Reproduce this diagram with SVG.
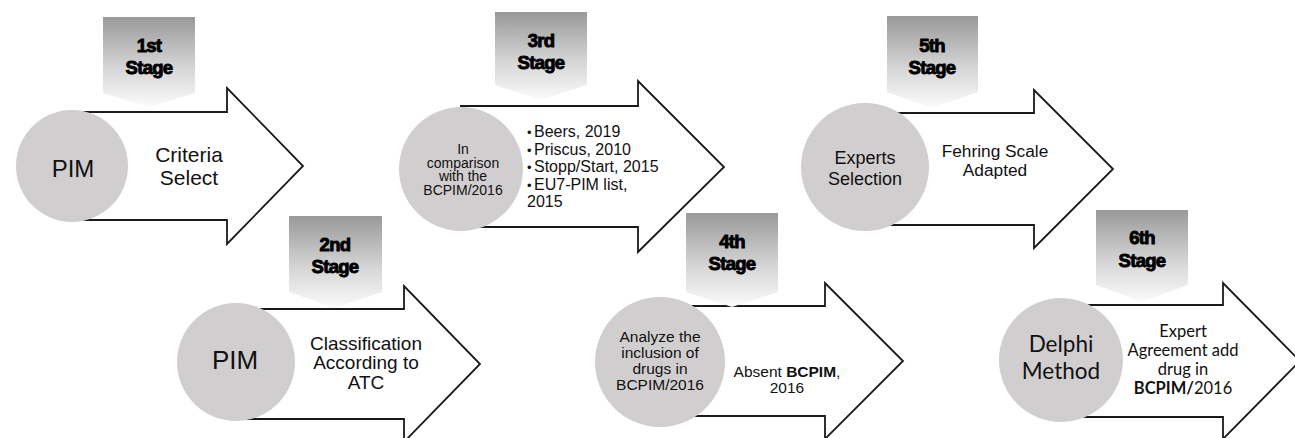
<svg xmlns="http://www.w3.org/2000/svg" width="1295" height="438" viewBox="0 0 1295 438">
<defs>
<linearGradient id="gStage" x1="0" y1="0" x2="0" y2="1">
<stop offset="0" stop-color="#999999"/>
<stop offset="0.55" stop-color="#d4d4d4"/>
<stop offset="1" stop-color="#fbfbfb"/>
</linearGradient>
<style>
.arrow{fill:#ffffff;stroke:#1a1a1a;stroke-width:1.8;stroke-linejoin:miter}
.circ{fill:#d1cecf;stroke:none}
.stage{fill:url(#gStage);stroke:none}
.st{font-family:"Liberation Sans",Arial,sans-serif;font-weight:bold;font-size:18.5px;fill:#000;stroke:#000;stroke-width:0.9;text-anchor:middle;letter-spacing:-0.7px}
.t{font-family:"Liberation Sans",Arial,sans-serif;fill:#111;text-anchor:middle}
.c{font-family:Lato,"Open Sans",sans-serif;fill:#111;text-anchor:middle}
.b{font-weight:bold}
</style>
</defs>
<g id="connectors"></g>
<g id="stage1">
<path class="arrow" d="M72,112 H227 V88 L303,166 L227,244 V220 H72 Z"/>
<circle class="circ" cx="72" cy="166" r="56"/>
<path class="stage" d="M103,17 H195 V93 L149,107 L103,93 Z"/>
<text class="st" x="149" y="52">1st</text>
<text class="st" x="149" y="74">Stage</text>
<text class="t" x="73" y="177" font-size="24">PIM</text>
<text class="t" x="189" y="162" font-size="21">Criteria</text>
<text class="t" x="189" y="185" font-size="21">Select</text>
</g>
<g id="stage2">
<path class="arrow" d="M236,309 H404 V286 L480,364 L404,442 V419 H236 Z"/>
<circle class="circ" cx="236" cy="362" r="59"/>
<path class="stage" d="M289,216 H382 V292 L335,308 L289,292 Z"/>
<text class="st" x="335" y="251">2nd</text>
<text class="st" x="335" y="273">Stage</text>
<text class="t" x="235" y="369" font-size="26">PIM</text>
<text class="t" x="366" y="350" font-size="19">Classification</text>
<text class="t" x="366" y="369" font-size="19">According to</text>
<text class="t" x="366" y="389" font-size="19">ATC</text>
</g>
<g id="stage3">
<path class="arrow" d="M461,106 H638 V81 L724,167 L638,252 V227 H461 Z"/>
<circle class="circ" cx="461" cy="169" r="62"/>
<path class="stage" d="M495,12 H587 V85 L541,100 L495,85 Z"/>
<text class="st" x="541" y="47">3rd</text>
<text class="st" x="541" y="69">Stage</text>
<text class="t" font-size="14" x="463" y="154">In</text>
<text class="t" font-size="14" x="463" y="167.5">comparison</text>
<text class="t" font-size="14" x="463" y="181">with the</text>
<text class="t" font-size="14" x="463" y="194.5">BCPIM/2016</text>
<g font-family="Liberation Sans, Arial, sans-serif" font-size="16" fill="#111">
<text x="527" y="137" font-size="13">•</text><text x="534" y="137">Beers, 2019</text>
<text x="527" y="154.5" font-size="13">•</text><text x="534" y="154.5">Priscus, 2010</text>
<text x="527" y="172" font-size="13">•</text><text x="534" y="172">Stopp/Start, 2015</text>
<text x="527" y="189.5" font-size="13">•</text><text x="534" y="189.5">EU7-PIM list,</text>
<text x="527" y="207">2015</text>
</g>
</g>
<g id="stage4">
<path class="arrow" d="M660,306 H825 V283 L903,361 L825,439 V416 H660 Z"/>
<circle class="circ" cx="660" cy="362" r="65"/>
<path class="stage" d="M686,213 H778 V292 L732,307 L686,292 Z"/>
<text class="st" x="732" y="248">4th</text>
<text class="st" x="732" y="270">Stage</text>
<text class="t" font-size="15.5" x="660" y="342">Analyze the</text>
<text class="t" font-size="15.5" x="660" y="358">inclusion of</text>
<text class="t" font-size="15.5" x="660" y="374">drugs in</text>
<text class="t" font-size="15.5" x="660" y="390">BCPIM/2016</text>
<text class="t" font-size="15.5" x="787" y="377">Absent <tspan class="b">BCPIM</tspan>,</text>
<text class="t" font-size="15.5" x="787" y="393">2016</text>
</g>
<g id="stage5">
<path class="arrow" d="M865,113 H1034 V90 L1113,169 L1034,248 V225 H865 Z"/>
<circle class="circ" cx="865" cy="167" r="64"/>
<path class="stage" d="M887,16 H978 V92 L932,108 L887,92 Z"/>
<text class="st" x="932" y="52">5th</text>
<text class="st" x="932" y="74">Stage</text>
<text class="t" font-size="18" x="865" y="164">Experts</text>
<text class="t" font-size="18" x="865" y="185">Selection</text>
<text class="t" font-size="17.3" x="995" y="157">Fehring Scale</text>
<text class="t" font-size="17.3" x="995" y="176">Adapted</text>
</g>
<g id="stage6">
<path class="arrow" d="M1061,305 H1223 V283 L1300,361 L1223,439 V417 H1061 Z"/>
<circle class="circ" cx="1061" cy="360" r="62"/>
<path class="stage" d="M1096,210 H1188 V285 L1142,302 L1096,285 Z"/>
<text class="st" x="1142" y="244">6th</text>
<text class="st" x="1142" y="267">Stage</text>
<text class="c" font-size="22.5" x="1061" y="352">Delphi</text>
<text class="c" font-size="22.5" x="1061" y="379">Method</text>
<text class="c" font-size="16.5" x="1183" y="337">Expert</text>
<text class="c" font-size="16.5" x="1183" y="356">Agreement add</text>
<text class="c" font-size="16.5" x="1183" y="375">drug in</text>
<text class="c" font-size="16.5" x="1183" y="394"><tspan class="b">BCPIM/</tspan>2016</text>
</g>
</svg>
